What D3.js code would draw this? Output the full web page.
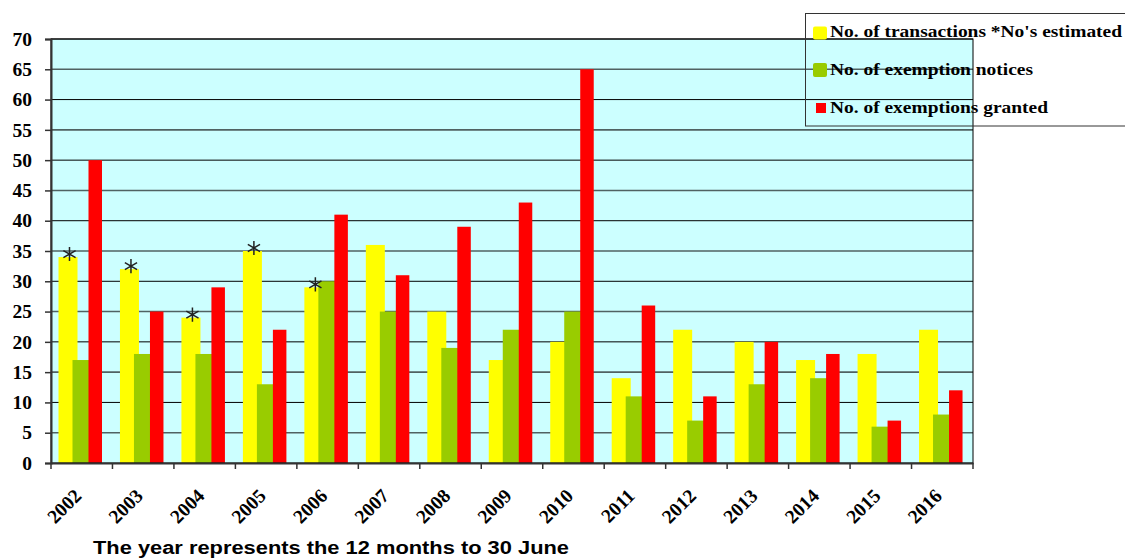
<!DOCTYPE html>
<html><head><meta charset="utf-8">
<script src="https://cdn.jsdelivr.net/npm/d3@7/dist/d3.min.js"></script>
<style>body{margin:0;background:#fff}svg{display:block}
.serif{font-family:'Liberation Serif','Times New Roman',serif;font-weight:bold;fill:#000}
.sans{font-family:'Liberation Sans',Arial,sans-serif;font-weight:bold;fill:#000}
</style>
</head><body><svg id="c" width="1125" height="558"></svg>
<script>
const years = ["2002","2003","2004","2005","2006","2007","2008","2009","2010","2011","2012","2013","2014","2015","2016"];
const transactions = [34,32,24,35,29,36,25,17,20,14,22,20,17,18,22];
const notices = [17,18,18,13,30,25,19,22,25,11,7,13,14,6,8];
const granted = [50,25,29,22,41,31,39,43,65,26,11,20,18,7,12];
const estimated = ["2002","2003","2004","2005","2006"];
const yTicks = d3.range(0,71,5);
const seriesNames = ["No. of transactions *No's estimated","No. of exemption notices","No. of exemptions granted"];
const colors = ["#FFFF00","#99CC00","#FF0000"];

const svg = d3.select("#c");
const L=51,R=973,T=39,B=463;
const x = d3.scaleBand().domain(years).range([L,R]).padding(0);
const y = d3.scaleLinear().domain([0,70]).range([B,T]);
const bw = x.bandwidth();
const k = bw/61.47;

svg.append("rect").attr("x",L).attr("y",T).attr("width",R-L).attr("height",B-T).attr("fill","#CCFFFF");
svg.append("g").selectAll("line").data(yTicks.filter(d=>d>0)).join("line")
  .attr("x1",L).attr("x2",R).attr("y1",d=>y(d)).attr("y2",d=>y(d))
  .attr("stroke",d=>d%10===0?"#000":"#506262").attr("stroke-width",d=>d%10===0?1:1.6);

const layout = [{off:7.5,w:19},{off:21.5,w:17},{off:37.5,w:13.5}];
[transactions,notices,granted].forEach((vals,i)=>{
  svg.append("g").selectAll("rect").data(years).join("rect")
    .attr("x",d=>x(d)+layout[i].off*k)
    .attr("width",layout[i].w*k)
    .attr("y",(d,j)=>y(vals[j]))
    .attr("height",(d,j)=>y(0)-y(vals[j]))
    .attr("fill",colors[i]);
});

svg.append("g").selectAll("path").data(estimated).join("path")
  .attr("transform",d=>`translate(${x(d)+18.5*k},${y(transactions[years.indexOf(d)])-3})`)
  .attr("d",d3.symbol(d3.symbolAsterisk,140)())
  .attr("fill","none").attr("stroke","#222").attr("stroke-width",1.5);

svg.append("rect").attr("x",L).attr("y",T).attr("width",R-L).attr("height",B-T)
  .attr("fill","none").attr("stroke","#000").attr("stroke-width",1);

const ya = svg.append("g").attr("transform",`translate(${L},0)`)
  .call(d3.axisLeft(y).tickValues(yTicks).tickSize(6).tickPadding(13));
ya.select(".domain").attr("stroke","#333").attr("stroke-width",2);
ya.selectAll("line").attr("stroke","#333").attr("stroke-width",1.5);
ya.selectAll("text").attr("class","serif").attr("fill",null).style("font-size","19.5px");

const xa = svg.append("g").attr("transform",`translate(0,${B})`)
  .call(d3.axisBottom(x).tickSize(0).tickFormat(""));
xa.select(".domain").attr("stroke","#333").attr("stroke-width",2);
svg.append("g").selectAll("line").data(d3.range(years.length+1)).join("line")
  .attr("x1",i=>L+i*bw).attr("x2",i=>L+i*bw)
  .attr("y1",B).attr("y2",B+6).attr("stroke","#333").attr("stroke-width",1.5);
svg.append("g").selectAll("text").data(years).join("text")
  .attr("class","serif").style("font-size","19.5px")
  .attr("transform",d=>`translate(${x(d)+bw/2+1},${B+34}) rotate(-45)`)
  .attr("text-anchor","end")
  .text(d=>d);

const lg = svg.append("g");
lg.append("rect").attr("x",805.5).attr("y",13.5).attr("width",330).attr("height",112.5)
  .attr("fill","none").attr("stroke","#333");
const base = [37,75,113];
const lens = [292,203,218];
seriesNames.forEach((n,i)=>{
  if(i===0) lg.append("rect").attr("x",813).attr("y",base[i]-10.5).attr("width",14).attr("height",13).attr("rx",2).attr("fill",colors[i]);
  else if(i===1) lg.append("rect").attr("x",813).attr("y",base[i]-12).attr("width",14).attr("height",14).attr("rx",2).attr("fill",colors[i]);
  else lg.append("rect").attr("x",816).attr("y",base[i]-10).attr("width",10).attr("height",10).attr("fill",colors[i]);
  lg.append("text").attr("class","serif").style("font-size","17px")
    .attr("x",830).attr("y",base[i])
    .attr("textLength",lens[i]).attr("lengthAdjust","spacingAndGlyphs").text(n);
});

svg.append("text").attr("class","sans").style("font-size","18px")
  .attr("x",93).attr("y",554)
  .attr("textLength",476).attr("lengthAdjust","spacingAndGlyphs")
  .text("The year represents the 12 months to 30 June");
</script></body></html>
